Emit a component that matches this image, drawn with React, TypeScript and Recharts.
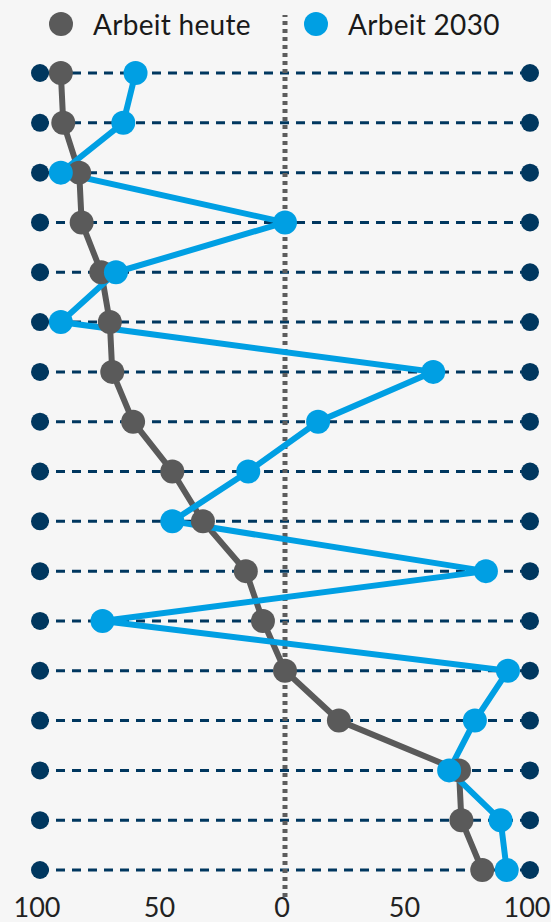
import React from 'react';
import {
  LineChart,
  Line,
  XAxis,
  YAxis,
  ReferenceLine,
  ReferenceDot,
} from 'recharts';

const GREY = '#5a5a5a';
const BLUE = '#009fe3';
const NAVY = '#00375f';
const FONT = 'Lato, "Open Sans", sans-serif';

// one row per item, top to bottom
const rows = [1, 2, 3, 4, 5, 6, 7, 8, 9, 10, 11, 12, 13, 14, 15, 16, 17];
const heute = [-91.5, -90.5, -84, -83, -75, -71.5, -70.5, -62, -46, -33.5, -16, -9, 0, 22, 71, 72, 80.5];
const zukunft = [-61, -66, -91.5, 0, -69, -91.5, 60.5, 13.5, -15, -46, 82, -74.5, 91, 77.5, 67, 88, 90.5];
const xTicks = [-100, -50, 0, 50, 100];

const data = rows.map((row, i) => ({ row, heute: heute[i], zukunft: zukunft[i] }));

if (typeof document !== 'undefined') {
  document.body.style.margin = '0';
  document.body.style.background = '#f6f6f6';
}

const LegendItem = ({ color, label, left }: { color: string; label: string; left: number }) => (
  <div style={{ position: 'absolute', top: 7, left, display: 'flex', alignItems: 'center', height: 34 }}>
    <span style={{ width: 24, height: 24, borderRadius: '50%', background: color, display: 'inline-block' }} />
    <span style={{ marginLeft: 20, fontFamily: FONT, fontSize: 28, letterSpacing: 0.3, color: '#1a1a1a', lineHeight: '34px' }}>
      {label}
    </span>
  </div>
);

export default function App() {
  return (
    <div style={{ position: 'relative', width: 551, height: 922, background: '#f6f6f6' }}>
      <LineChart
        width={551}
        height={922}
        layout="vertical"
        data={data}
        margin={{ top: 15, right: 21, bottom: 0, left: 40 }}
      >
        <XAxis
          type="number"
          domain={[-100, 100]}
          ticks={xTicks}
          tickFormatter={(v: number) => String(Math.abs(v))}
          axisLine={false}
          tickLine={false}
          tickSize={0}
          tickMargin={1}
          height={25}
          interval={0}
          tick={{ fill: '#222', fontSize: 27, fontFamily: FONT, dx: -3 }}
        />
        <YAxis type="category" dataKey="row" hide padding={{ top: 58, bottom: 27 }} />

        {rows.map((r) => (
          <ReferenceLine key={`l${r}`} y={r} stroke={NAVY} strokeWidth={3} strokeDasharray="9 7" />
        ))}
        <ReferenceLine x={0} stroke="#5c5c5c" strokeWidth={5} strokeDasharray="4 4" />

        <Line
          dataKey="heute"
          stroke={GREY}
          strokeWidth={6}
          dot={{ r: 12, fill: GREY, stroke: 'none' }}
          isAnimationActive={false}
        />
        <Line
          dataKey="zukunft"
          stroke={BLUE}
          strokeWidth={6}
          dot={{ r: 12, fill: BLUE, stroke: 'none' }}
          isAnimationActive={false}
        />

        {rows.map((r) => (
          <ReferenceDot key={`a${r}`} x={-100} y={r} r={9} fill={NAVY} stroke="none" />
        ))}
        {rows.map((r) => (
          <ReferenceDot key={`b${r}`} x={100} y={r} r={9} fill={NAVY} stroke="none" />
        ))}
      </LineChart>
      <LegendItem color={GREY} label="Arbeit heute" left={49} />
      <LegendItem color={BLUE} label="Arbeit 2030" left={304} />
    </div>
  );
}
